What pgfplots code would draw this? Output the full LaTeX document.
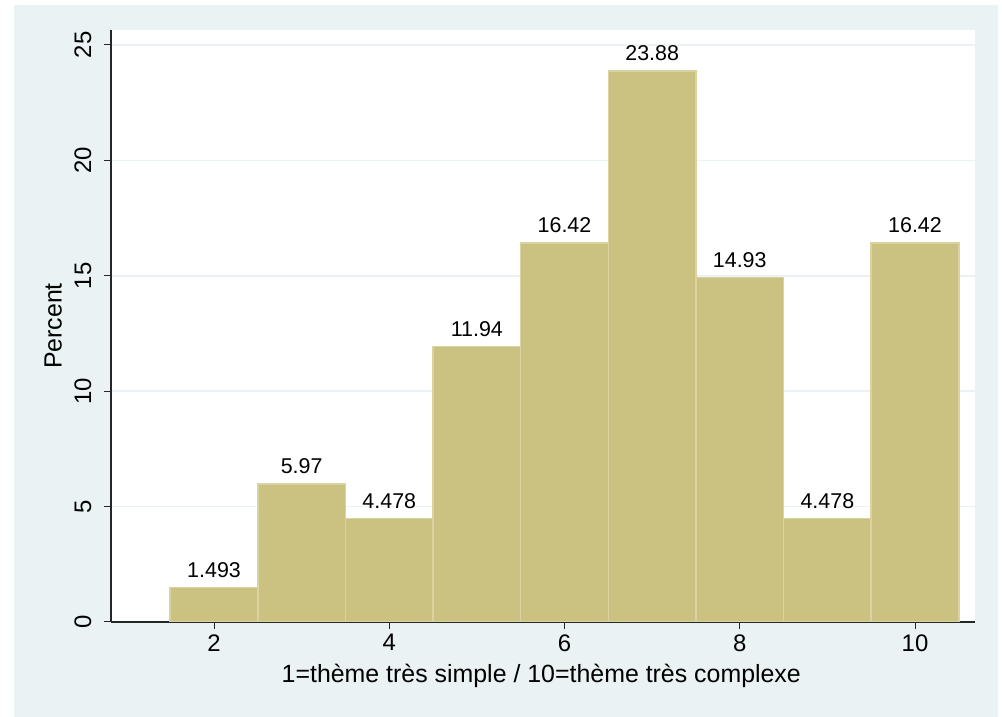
\documentclass[border=0pt]{standalone}
\usepackage{pgfplots}
\pgfplotsset{compat=1.18}
\usepackage{fontspec}
\setmainfont{Liberation Sans}
\definecolor{bg}{RGB}{234,242,243}
\definecolor{barfill}{RGB}{203,194,130}
\definecolor{barline}{RGB}{217,211,162}
\begin{document}
\begin{tikzpicture}[x=1bp,y=1bp]
\useasboundingbox (0,0) rectangle (1002,717);
\fill[bg] (14,0) rectangle (998,712);
\begin{axis}[
  at={(111bp,95bp)}, anchor=south west,
  width=864bp, height=592bp, scale only axis,
  xmin=0.824, xmax=10.685, ymin=0, ymax=25.65,
  axis x line*=bottom, axis y line*=left,
  axis line style={black!85, line width=1.1bp},
  axis background/.style={fill=white},
  ytick={0,5,...,25}, xtick={2,4,...,10},
  ymajorgrids, grid style={bg, line width=1.6bp},
  tick align=outside, major tick length=7bp,
  tick style={black!85, line width=1bp},
  yticklabel style={xshift=-9bp, rotate=90, anchor=south},
  xticklabel style={yshift=-2bp},
  ticklabel style={font=\fontsize{24}{28}\selectfont},
  /pgf/number format/assume math mode=true,
  xlabel={1=thème très simple / 10=thème très complexe},
  ylabel={Percent},
  xlabel style={at={(axis description cs:0.498,-0.091)}, anchor=center},
  ylabel style={at={(axis description cs:-0.067,0.5)}, anchor=center},
  label style={font=\fontsize{25}{29}\selectfont},
  ybar, bar width=1,
  nodes near coords, point meta=explicit symbolic,
  nodes near coords style={font=\fontsize{21.5}{24}\selectfont, anchor=south, yshift=6bp, text=black},
]
\addplot[fill=barfill, draw=barline, line width=1.5bp] table[meta=label] {
x y label
2 1.493 1.493
3 5.97 5.97
4 4.478 4.478
5 11.94 11.94
6 16.42 16.42
7 23.88 23.88
8 14.93 14.93
9 4.478 4.478
10 16.42 16.42
};
\end{axis}
\end{tikzpicture}
\end{document}
